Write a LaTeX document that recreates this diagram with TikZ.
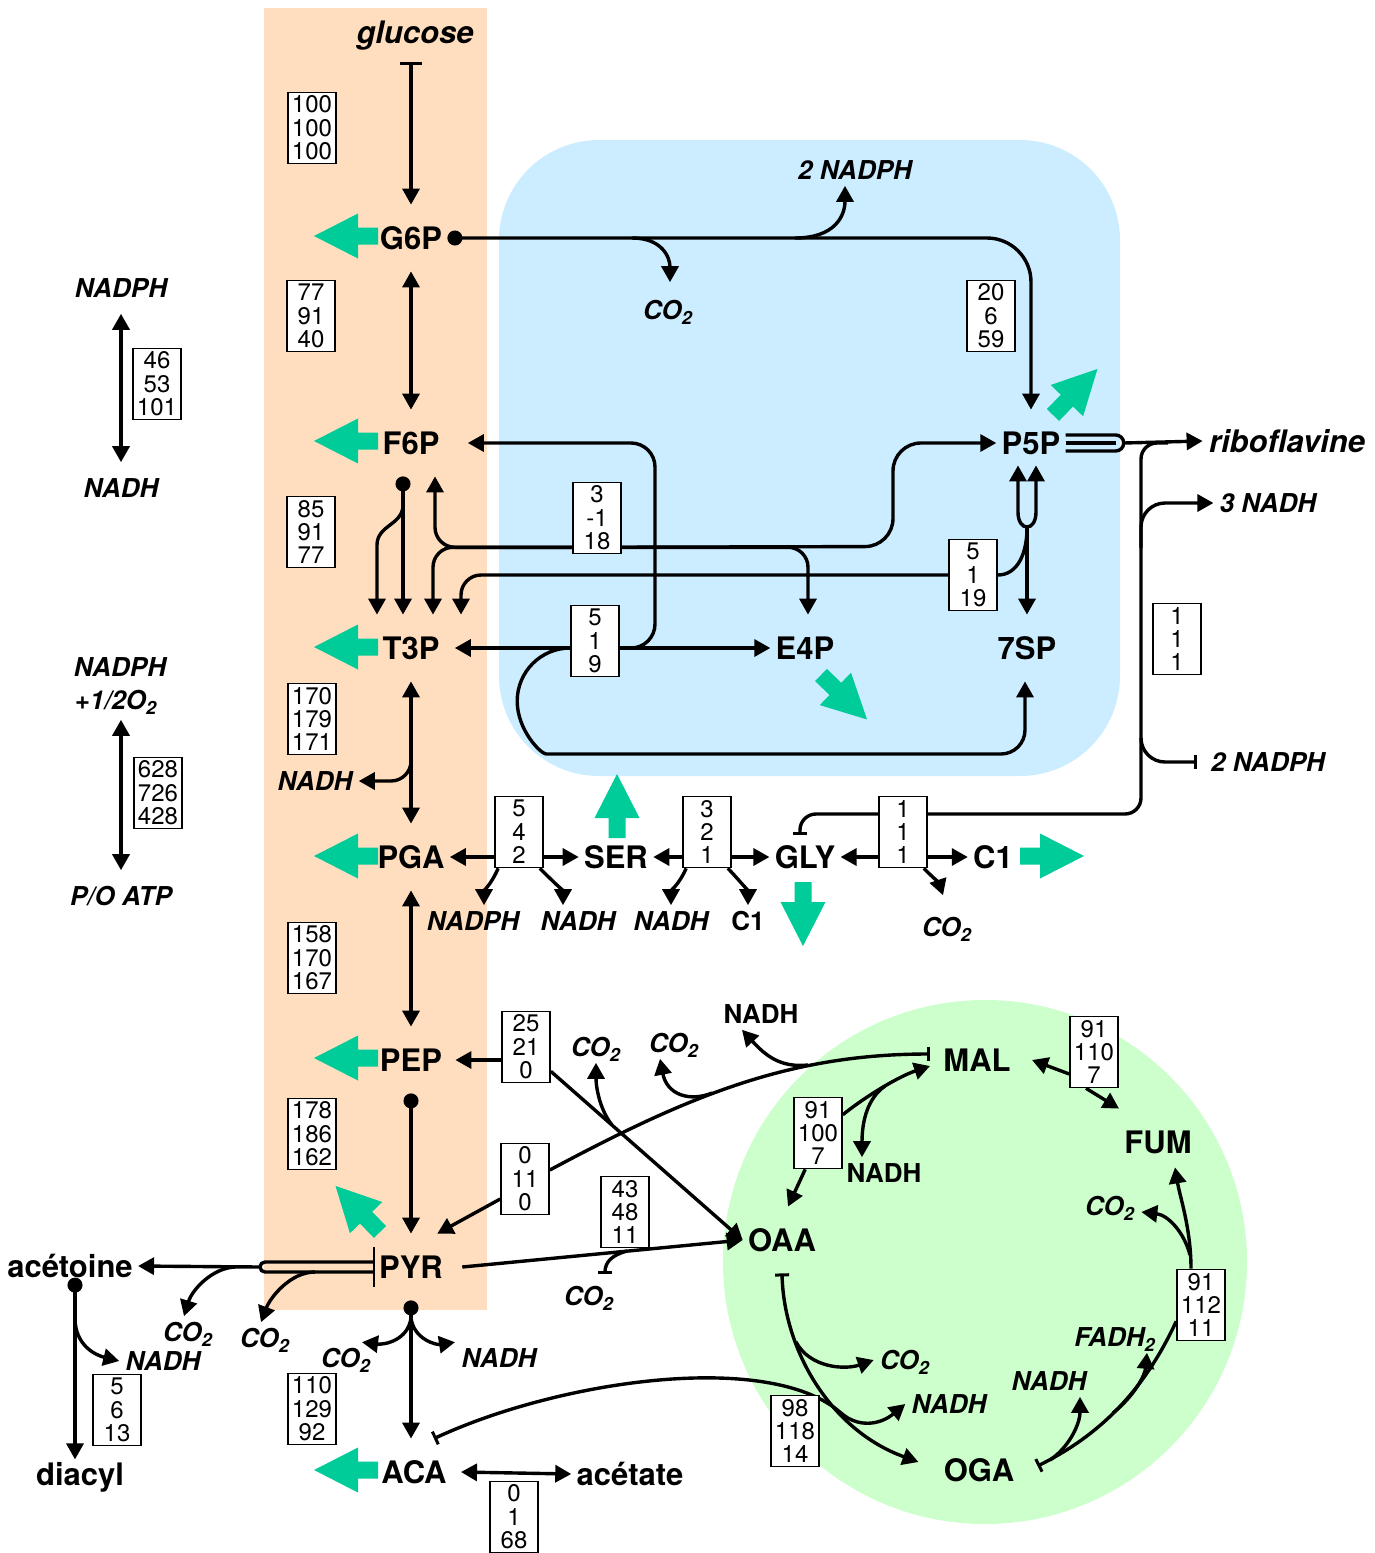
\documentclass[tikz,border=0pt]{standalone}
\usepackage{fontspec}
\setmainfont{TeX Gyre Heros}
\usetikzlibrary{arrows.meta}
\pgfdeclarelayer{background}
\pgfdeclarelayer{front}
\pgfsetlayers{background,main,front}
\newcommand{\cotwo}{CO\textsubscript{2}}
% big flux arrow: tail at (#1,#2), pointing to angle #3
\newcommand{\bigarrow}[3]{%
  \fill[tealflux, shift={(#1,#2)}, rotate=#3] (0,-8.5) -- (20,-8.5) -- (20,-22.5) -- (64,0) -- (20,22.5) -- (20,8.5) -- (0,8.5) -- cycle;}

\begin{document}
\begin{tikzpicture}[x=0.5pt, y=-0.5pt, >={Triangle[length=8pt,width=8.5pt]},
    met/.style={font=\fontsize{15.5}{16}\selectfont\bfseries, text height=11.2pt, text depth=0pt, inner xsep=2.5pt, inner ysep=10.9pt},
    ext/.style={met, font=\fontsize{15.5}{16}\selectfont\bfseries\itshape, inner sep=3pt},
    cof/.style={font=\fontsize{13}{14}\selectfont\bfseries\itshape, text height=9.4pt, text depth=0pt, inner sep=3pt},
    cofup/.style={cof, font=\fontsize{13}{14}\selectfont\bfseries},
    flux/.style={draw, line width=0.8pt, fill=white, minimum width=24pt, minimum height=35.5pt, inner sep=0.5pt, align=center, font=\fontsize{12}{11.7}\selectfont}]
  \definecolor{peachbg}{RGB}{255,222,191}
  \definecolor{bluebg}{RGB}{204,236,255}
  \definecolor{greenbg}{RGB}{204,255,204}
  \definecolor{tealflux}{RGB}{0,204,153}
  \useasboundingbox (0,0) rectangle (1375,1553);

  \begin{pgfonlayer}{background}
    \fill[peachbg] (264,8) rectangle (487,1310);
    \fill[bluebg, rounded corners=50pt] (499,140) rectangle (1120,776);
    \fill[greenbg] (985,1262) circle[radius=262];
  \end{pgfonlayer}

  \begin{pgfonlayer}{front}
    % metabolites
    \node[met] (g6p) at (411,238) {G6P};
    \node[met] (f6p) at (411,443) {F6P};
    \node[met] (t3p) at (411,648) {T3P};
    \node[met] (pga) at (411,857) {PGA};
    \node[met] (pep) at (411,1060) {PEP};
    \node[met] (pyr) at (411,1267) {PYR};
    \node[met] (aca) at (414,1472) {ACA};
    \node[met] (acet) at (630,1474) {acétate};
    \node[met, inner ysep=0pt] (acetoin) at (70,1266) {acétoine};
    \node[met, inner ysep=1.5pt] (diacyl) at (80,1474) {diacyl};
    \node[met] (p5p) at (1031,443) {P5P};
    \node[met] (e4p) at (805,648) {E4P};
    \node[met] (s7p) at (1027,648) {7SP};
    \node[met] (ser) at (616,857) {SER};
    \node[met] (gly) at (805,857) {GLY};
    \node[met] (c1) at (993,857) {C1};
    \node[met] (mal) at (977,1060) {MAL};
    \node[met] (fum) at (1158,1142) {FUM};
    \node[met] (oaa) at (782,1240) {OAA};
    \node[met] (oga) at (979,1470) {OGA};
    \node[ext] (glc) at (415,32) {glucose};
    \node[ext] (rib) at (1287,441) {riboflavine};
    % cofactors
    \node[cof] (nadphA) at (855,170) {2 NADPH};
    \node[cof] (co2A) at (668,310) {\cotwo};
    \node[cof] (nadhR) at (1268,503) {3 NADH};
    \node[cof] (nadphR) at (1268,762) {2 NADPH};
    \node[cof] (nadphL) at (121,288) {NADPH};
    \node[cof] (nadhL) at (121,488) {NADH};
    \node[cof] (nadphO) at (120,667) {NADPH};
    \node[cof] (o2L) at (116,700) {+1/2O\textsubscript{2}};
    \node[cof] (poL) at (121,896) {P/O ATP};
    \node[cof] (nadhG) at (315,781) {NADH};
    \node[cof] (nadphS) at (473,921) {NADPH};
    \node[cof] (nadhS) at (578,921) {NADH};
    \node[cof] (nadhT) at (671,921) {NADH};
    \node[cofup] (c1T) at (748,921) {C1};
    \node[cof] (co2T) at (947,927) {\cotwo};
    \node[cof] (co2P) at (596,1047) {\cotwo};
    \node[cof] (co2M) at (674,1043) {\cotwo};
    \node[cofup] (nadhM) at (761,1014) {NADH};
    \node[cofup] (nadhD) at (884,1173) {NADH};
    \node[cof] (co2C) at (589,1296) {\cotwo};
    \node[cof] (co2F) at (1110,1206) {\cotwo};
    \node[cof] (fadh) at (1115,1337) {FADH\textsubscript{2}};
    \node[cof] (nadhF) at (1049,1381) {NADH};
    \node[cof] (co2O) at (905,1360) {\cotwo};
    \node[cof] (nadhO) at (949,1404) {NADH};
    \node[cof] (co2Y) at (188,1332) {\cotwo};
    \node[cof] (co2Z) at (265,1338) {\cotwo};
    \node[cof] (nadhY) at (163,1361) {NADH};
    \node[cof] (co2D) at (346,1358) {\cotwo};
    \node[cof] (nadhP) at (499,1358) {NADH};
    % flux boxes
    \node[flux] (f-glc) at (312,128) {100\\100\\100};
    \node[flux] (f-pgi) at (311,316) {77\\91\\40};
    \node[flux] (f-red) at (157,384) {46\\53\\101};
    \node[flux] (f-fba) at (311,532) {85\\91\\77};
    \node[flux] (f-tk1) at (597,518) {3\\-1\\18};
    \node[flux] (f-zwf) at (991,316) {20\\6\\59};
    \node[flux] (f-tk2) at (973,575) {5\\1\\19};
    \node[flux] (f-tal) at (595,641) {5\\1\\9};
    \node[flux] (f-rib) at (1177,639) {1\\1\\1};
    \node[flux] (f-gap) at (312,719) {170\\179\\171};
    \node[flux] (f-ox) at (158,793) {628\\726\\428};
    \node[flux] (f-ser) at (519,832) {5\\4\\2};
    \node[flux] (f-shm) at (707,832) {3\\2\\1};
    \node[flux] (f-gcv) at (903,832) {1\\1\\1};
    \node[flux] (f-eno) at (312,958) {158\\170\\167};
    \node[flux] (f-pck) at (526,1047) {25\\21\\0};
    \node[flux] (f-fum) at (1094,1052) {91\\110\\7};
    \node[flux] (f-mdh) at (818,1133) {91\\100\\7};
    \node[flux] (f-mae) at (525,1179) {0\\11\\0};
    \node[flux] (f-pyc) at (625,1212) {43\\48\\11};
    \node[flux] (f-pyk) at (312,1134) {178\\186\\162};
    \node[flux] (f-sdh) at (1201,1305) {91\\112\\11};
    \node[flux] (f-als) at (117,1410) {5\\6\\13};
    \node[flux] (f-pdh) at (312,1409) {110\\129\\92};
    \node[flux] (f-cit) at (795,1431) {98\\118\\14};
    \node[flux] (f-ace) at (514,1517) {0\\1\\68};
  \end{pgfonlayer}

  % big flux arrows
  \bigarrow{378}{236}{180}
  \bigarrow{378}{441}{180}
  \bigarrow{378}{647}{180}
  \bigarrow{378}{856}{180}
  \bigarrow{378}{1058}{180}
  \bigarrow{378}{1470}{180}
  \bigarrow{380}{1232}{134}
  \bigarrow{1053}{415}{46}
  \bigarrow{821}{675}{-44}
  \bigarrow{617}{838}{90}
  \bigarrow{803}{882}{-90}
  \bigarrow{1020}{856}{0}

  \begin{scope}[line width=1.7pt]
  % glycolysis
  \draw[{Bar[width=11pt,line width=1.6pt]}->, shorten <=6pt] (glc.south -| g6p.north) -- (g6p.north);
  \draw[<->] (g6p) -- (f6p);
  \draw[{Circle[length=7.5pt]}->] ([xshift=-4pt]f6p.south) -- ([xshift=-4pt]t3p.north);
  \draw[->] (403,505) .. controls +(0,20) and +(0,-20) .. (377,545) -- ([xshift=-17pt]t3p.north);
  \draw[<->] (t3p) -- (pga);
  \draw[->, rounded corners=10pt] (411,750) |- (nadhG.east);
  \draw[<->] (pga) -- (pep);
  \draw[{Circle[length=7.5pt]}->] (pep) -- (pyr);

  % pentose phosphates
  \draw[{Circle[length=7.5pt]}->, rounded corners=22pt] (g6p.east) -| (p5p.north);
  \draw[->] (632,238) .. controls +(30,0) and +(0,-25) .. ([xshift=1pt,yshift=6pt]co2A.north);
  \draw[->] (795,238) .. controls +(40,0) and +(0,30) .. ([xshift=-5pt]nadphA.south);
  \draw[->, rounded corners=10pt] ([yshift=3.5pt]f-tk1.south) -| ([xshift=12pt]f6p.south);
  \draw[->, rounded corners=10pt] ([yshift=3.5pt]f-tk1.south) -| ([xshift=11pt]t3p.north);
  \draw[->, rounded corners=10pt] ([yshift=3.5pt]f-tk1.south) -| ([xshift=1.5pt]e4p.north);
  \draw[->, rounded corners=14pt] ([yshift=3.5pt]f-tk1.south) -- (893,546.5) |- (p5p.west);
  \draw[->, rounded corners=10pt] (f-tk2.west) -| ([xshift=25pt]t3p.north);
  \draw (f-tk2.east) .. controls +(20,0) and +(0,25) .. (1027,528);
  \draw[->] (1027,526) -- (s7p.north);
  \draw[<->] ([xshift=-6.5pt,yshift=5.5pt]p5p.south) -- (1018,512) .. controls +(0,20) and +(0,20) .. (1036,512) -- ([xshift=2.5pt,yshift=5.5pt]p5p.south);
  \draw[->] ([xshift=5pt]f-tal.west |- t3p.east) -- ([xshift=5pt]t3p.east);
  \draw[->] (f-tal.east |- t3p.east) -- (e4p.west);
  \draw[->, rounded corners=12pt] (f-tal.east |- t3p.east) -| (655,443) -- ([xshift=11.5pt]f6p.east);
  \draw[->, rounded corners=12pt] (f-tal.west |- t3p.east) arc[start angle=270, end angle=90, radius=53] -| ([xshift=-1pt]s7p.south);

  % riboflavine
  \draw ([yshift=4pt]p5p.east) -- ++(50,0) arc[start angle=-90, end angle=90, radius=8] -- ([yshift=-4pt]p5p.east);
  \draw (p5p.east) -- ++(50,0);
  \draw[->] ([xshift=29pt]p5p.east) -- (rib.west);
  \draw[-{Bar[width=7pt,line width=1.5pt]}, rounded corners=8pt] (1168,443) -| (1141,814) -| ([xshift=-2.5pt,yshift=-5.5pt]gly.north);
  \draw[->, rounded corners=12pt] (1141,548) |- (nadhR.west);
  \draw[-{Bar[width=7pt,line width=1.5pt]}, rounded corners=12pt] (1141,740) |- ([xshift=-4pt]nadphR.west);

  % serine, glycine
  \draw[->] (f-ser.west |- pga.east) -- (pga.east);
  \draw[->] (f-ser.east |- pga.east) -- (ser.west);
  \draw[->] ([xshift=2pt]f-ser.south west) .. controls +(-6,14) and +(0,-14) .. ([xshift=5.5pt]nadphS.north);
  \draw[->] ([xshift=-2pt]f-ser.south east) .. controls +(8,8) and +(0,-14) .. ([xshift=-7.5pt]nadhS.north);
  \draw[->] (f-shm.west |- ser.east) -- (ser.east);
  \draw[->] (f-shm.east |- ser.east) -- (gly.west);
  \draw[->] ([xshift=2pt]f-shm.south west) .. controls +(-6,14) and +(0,-14) .. (nadhT.north);
  \draw[->] ([xshift=-2pt]f-shm.south east) .. controls +(8,8) and +(0,-14) .. (c1T.north);
  \draw[->] (f-gcv.west |- gly.east) -- (gly.east);
  \draw[->] (f-gcv.east |- gly.east) -- (c1.west);
  \draw[->] ([xshift=-2pt]f-gcv.south east) .. controls +(8,8) and +(-4,-12) .. ([xshift=-2pt,yshift=8pt]co2T.north);

  % anaplerosis
  \draw[->] (f-pck.west |- pep.east) -- ([xshift=4pt]pep.east);
  \draw[->] ([yshift=6pt]f-pck.south east) -- (oaa.west);
  \draw[->] (612,1125) .. controls +(-12,-15) and +(0,25) .. (co2P.south);
  \draw[->] ([yshift=-10pt]f-mae.west) -- ([xshift=-5.5pt]pyr.north east);
  \draw[-{Bar[width=7pt,line width=1.5pt]}] ([yshift=4.5pt]f-mae.east) .. controls (690,1095) and (790,1054) .. ([xshift=-4pt,yshift=3pt]mal.west);
  \draw[->] (712,1093) .. controls (690,1102) and (667,1095) .. ([xshift=-7pt]co2M.south);
  \draw[->] (808,1065) .. controls (780,1068) and (765,1055) .. ([xshift=-9.5pt]nadhM.south);
  \draw[->] ([xshift=7pt]pyr.east) -- (oaa.west);
  \draw[-{Bar[width=7pt,line width=1.5pt]}] (627,1251) .. controls (612,1255) and (605,1262) .. ([xshift=8pt,yshift=3pt]co2C.north);

  % TCA cycle
  \draw[->] ([yshift=-9pt]f-mdh.north east) .. controls +(25,-20) and +(-30,10) .. ([xshift=-4pt,yshift=-3pt]mal.west);
  \draw[->] (885,1086) .. controls (868,1098) and (862,1120) .. ([xshift=-11pt]nadhD.north);
  \draw[->] ([xshift=6pt]f-mdh.south west) -- ([xshift=3pt]oaa.north);
  \draw[->] ([yshift=-11pt]f-fum.west) -- ([xshift=8pt]mal.east);
  \draw[->] ([xshift=-4pt]f-fum.south) -- (fum.north west);
  \draw[->] ([xshift=-5pt]f-sdh.north) .. controls +(0,-40) and +(5,30) .. ([xshift=8.5pt,yshift=4pt]fum.south);
  \draw[->] (1190,1255) .. controls (1184,1232) and (1168,1215) .. ([yshift=-3pt]co2F.east);
  \draw[-{Bar[width=7pt,line width=1.5pt]}] ([yshift=10pt]f-sdh.south west) .. controls (1140,1400) and (1090,1440) .. ([xshift=9pt,yshift=2pt]oga.east);
  \draw[->] (1113,1413) .. controls (1135,1395) and (1145,1375) .. ([xshift=16pt]fadh.south);
  \draw[->] (1050,1460) .. controls (1068,1448) and (1080,1425) .. ([xshift=15.5pt]nadhF.south);
  \draw[{Bar[width=7pt,line width=1.5pt]}->] (oaa.south) .. controls (784,1350) and (830,1430) .. ([xshift=-10pt,yshift=4pt]oga.west);
  \draw[->] (796,1342) .. controls (810,1368) and (845,1370) .. (co2O.west);
  \draw[->] (841,1413) .. controls (858,1428) and (880,1425) .. (nadhO.west);
  \draw[{Bar[width=7pt,line width=1.5pt]}-] ([xshift=-9pt]aca.north east) .. controls (560,1380) and (770,1350) .. (841,1413);

  % acetoine, acetate
  \draw[line width=1.2pt] (pyr.west) ++(0,-20) -- ++(0,40);
  \draw ([yshift=2.5pt]pyr.west) -- (265,1262) arc[start angle=270, end angle=90, radius=5] -- ([yshift=-2.5pt]pyr.west);
  \draw[->] (260,1267) -- (acetoin.east);
  \draw[->] (235,1267) .. controls (212,1268) and (192,1290) .. ([xshift=-2pt]co2Y.north);
  \draw[->] (315,1272) .. controls (290,1272) and (270,1298) .. ([xshift=-2pt]co2Z.north);
  \draw[{Circle[length=7.5pt]}->] ([xshift=2.5pt]acetoin.south) -- ([xshift=2.5pt]acetoin.south |- diacyl.north);
  \draw[->] (75,1318) .. controls (75,1345) and (95,1355) .. (nadhY.west);
  \draw[{Circle[length=7.5pt]}->] (pyr.south) -- (pyr.south |- aca.north);
  \draw[->] (411,1318) .. controls (408,1340) and (385,1345) .. ([xshift=8pt]co2D.north);
  \draw[->] (411,1318) .. controls (414,1340) and (437,1345) .. ([xshift=-22pt]nadhP.north);
  \draw[<->] ([xshift=4.5pt]aca.east) -- (acet.west);

  % redox balance
  \draw[<->, shorten <=5pt, shorten >=5pt] (nadphL) -- (nadhL);
  \draw[<->, shorten <=2pt, shorten >=5pt] (poL.north |- o2L.south) -- (poL.north);
  \end{scope}
\end{tikzpicture}
\end{document}
